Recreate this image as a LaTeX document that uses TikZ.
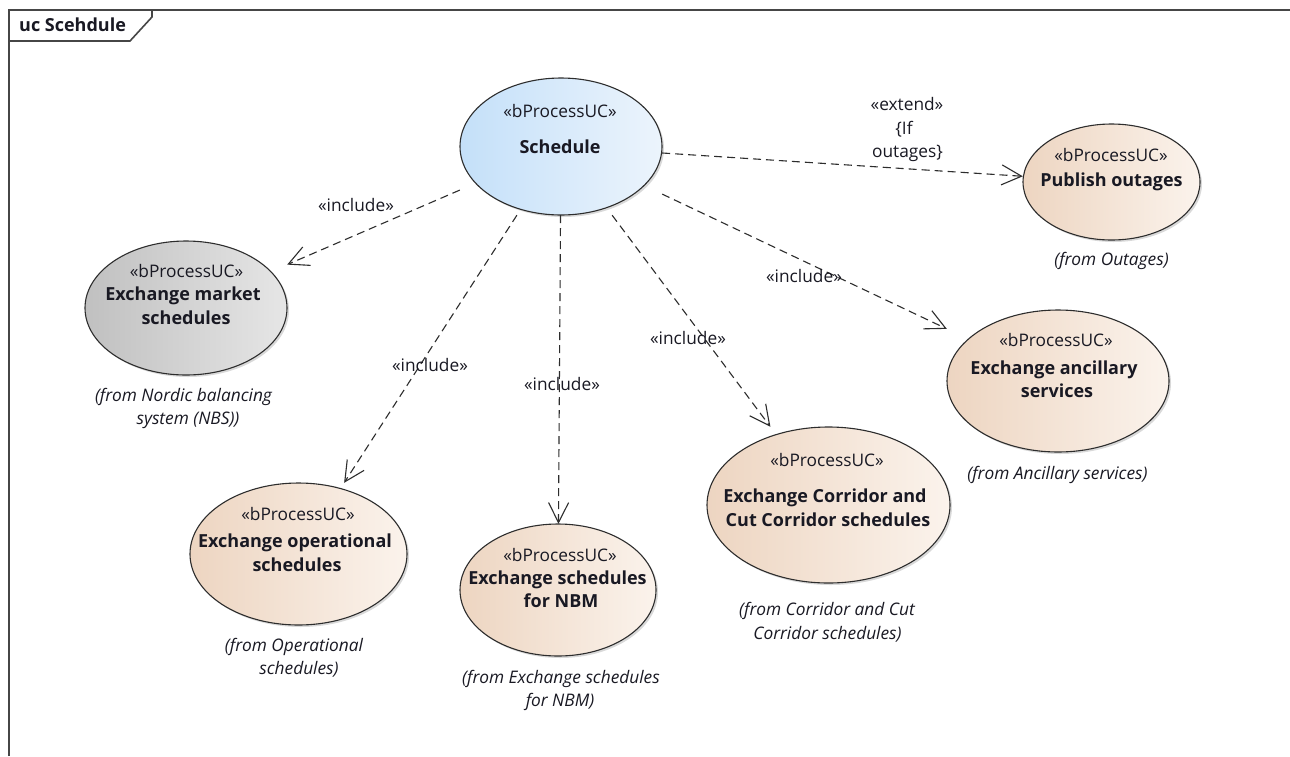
\documentclass[tikz,border=0pt]{standalone}
\usepackage{fontspec}
\setmainfont{Open Sans}
\usetikzlibrary{arrows.meta}
\definecolor{beigeL}{RGB}{237,213,193}
\definecolor{beigeR}{RGB}{251,243,236}
\definecolor{blueL}{RGB}{196,224,249}
\definecolor{blueR}{RGB}{236,244,252}
\definecolor{grayL}{RGB}{192,192,192}
\definecolor{grayR}{RGB}{230,230,230}
\definecolor{ink}{RGB}{25,25,35}
\definecolor{edge}{RGB}{45,45,45}
\definecolor{framec}{RGB}{70,70,70}
\tikzset{
  frameline/.style={draw=framec, line width=1.6pt},
  ucline/.style={draw=edge, line width=1.1pt},
  ucshadow/.style={fill=black!15},
  ucbox/.style={rectangle, inner sep=0pt, draw=none},
  txt/.style={inner sep=0pt, text=ink, anchor=base, font=\fontsize{17.3}{23.5}\selectfont},
  stereo/.style={txt},
  ucname/.style={txt, font=\fontsize{18}{23.5}\selectfont\bfseries},
  fromnote/.style={txt, font=\fontsize{17.3}{23.5}\selectfont\itshape},
  lbl/.style={txt},
  titletxt/.style={txt, font=\fontsize{18}{23.5}\selectfont\bfseries, anchor=base west},
  dep/.style={draw=edge, line width=1.1pt, dash pattern=on 8pt off 5pt, -{Straight Barb[length=20pt,width=20pt]}},
}
% name, center, rx, ry, left colour, right colour
\newcommand\ucshape[6]{%
  \fill[ucshadow, shift={(2,2)}] (#2) ellipse [x radius=#3, y radius=#4];
  \shadedraw[ucline, left color=#5, right color=#6] (#2) ellipse [x radius=#3, y radius=#4];
  \node[ucbox, minimum width=2*#3, minimum height=2*#4] (#1) at (#2) {};
}
\begin{document}
\begin{tikzpicture}[x=1pt, y=-1pt]
\useasboundingbox (0,0) rectangle (1290,756);
\fill[white] (0,0) rectangle (1290,756);

% frame
\draw[frameline] (9,756) -- (9,10) -- (1292,10);
\draw[frameline] (9,41) -- (130,41) -- (152,17) -- (152,10);
\node[titletxt] (title) at (19,31) {uc Scehdule};

% use cases
\ucshape{sched}{561,146.5}{101}{68.5}{blueL}{blueR}
\ucshape{pub}{1111.5,182}{88.5}{58}{beigeL}{beigeR}
\ucshape{market}{186,308}{101}{67}{grayL}{grayR}
\ucshape{oper}{298.5,554}{108.5}{71}{beigeL}{beigeR}
\ucshape{nbm}{558,590}{98}{66}{beigeL}{beigeR}
\ucshape{corr}{828.5,505}{121.5}{78}{beigeL}{beigeR}
\ucshape{anc}{1058,381}{111}{71}{beigeL}{beigeR}

% texts
\node[stereo] (schedS) at (560,117) {«bProcessUC»};
\node[ucname] (schedN) at (560,153) {Schedule};

\node[stereo] (pubS) at (1111,161) {«bProcessUC»};
\node[ucname] (pubN) at (1111.5,186) {Publish outages};
\node[fromnote] (pubF) at (1111.5,265) {(from Outages)};

\node[stereo] (marketS) at (186.5,277) {«bProcessUC»};
\node[ucname] (marketN1) at (183,300) {Exchange market};
\node[ucname] (marketN2) at (186,324) {schedules};
\node[fromnote] (marketF1) at (183.5,401) {(from Nordic balancing};
\node[fromnote] (marketF2) at (188,424) {system (NBS))};

\node[stereo] (operS) at (298,520) {«bProcessUC»};
\node[ucname] (operN1) at (295,547) {Exchange operational};
\node[ucname] (operN2) at (297,571) {schedules};
\node[fromnote] (operF1) at (294,651) {(from Operational};
\node[fromnote] (operF2) at (299,674) {schedules)};

\node[stereo] (nbmS) at (560,561) {«bProcessUC»};
\node[ucname] (nbmN1) at (557.5,584) {Exchange schedules};
\node[ucname] (nbmN2) at (561,607) {for NBM};
\node[fromnote] (nbmF1) at (561,683) {(from Exchange schedules};
\node[fromnote] (nbmF2) at (560,706) {for NBM)};

\node[stereo] (corrS) at (827,466) {«bProcessUC»};
\node[ucname] (corrN1) at (825,502) {Exchange Corridor and};
\node[ucname] (corrN2) at (828,526) {Cut Corridor schedules};
\node[fromnote] (corrF1) at (827,615) {(from Corridor and Cut};
\node[fromnote] (corrF2) at (827.5,639) {Corridor schedules)};

\node[stereo] (ancS) at (1056,346) {«bProcessUC»};
\node[ucname] (ancN1) at (1054,374) {Exchange ancillary};
\node[ucname] (ancN2) at (1057,397) {services};
\node[fromnote] (ancF) at (1057.5,479) {(from Ancillary services)};

% connectors
\draw[dep] (sched) -- (market);
\draw[dep] (sched) -- (oper);
\draw[dep] (sched) -- (nbm);
\draw[dep] (sched) -- (corr);
\draw[dep] (sched) -- (anc);
\draw[dep] (sched) -- (pub);

% connector labels
\node[lbl] (l1) at (356,211) {«include»};
\node[lbl] (l2) at (430,371) {«include»};
\node[lbl] (l3) at (562,390) {«include»};
\node[lbl] (l4) at (688,344) {«include»};
\node[lbl] (l5) at (804,282) {«include»};
\node[lbl] (l6a) at (907,110) {«extend»};
\node[lbl] (l6b) at (904,134) {\{If};
\node[lbl] (l6c) at (907.5,157) {outages\}};
\end{tikzpicture}
\end{document}
